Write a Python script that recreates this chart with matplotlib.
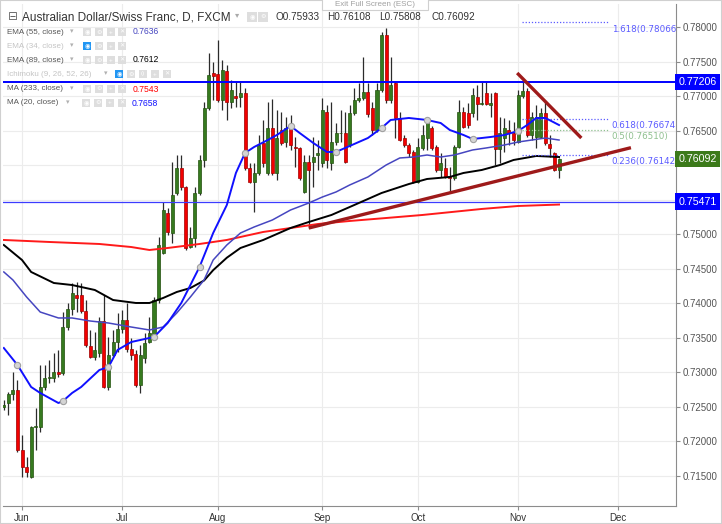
import numpy as np
import pandas as pd
import matplotlib
matplotlib.use("Agg")
import matplotlib.pyplot as plt
from matplotlib.patches import Rectangle
from matplotlib.transforms import Affine2D, blended_transform_factory

plt.rcParams['font.family'] = ['Liberation Sans', 'DejaVu Sans']

# candles diarios AUD/CHF (FXCM), de 26/05/2017 ate 14/11/2017
opens = [0.72499, 0.72557, 0.72687, 0.72745, 0.71877, 0.71631, 0.71486, 0.72210, 0.72210, 0.72789,
         0.72919, 0.72919, 0.73006, 0.72991, 0.73657, 0.73918, 0.74121, 0.74121, 0.73889, 0.73382,
         0.73223, 0.73281, 0.73744, 0.72789, 0.73252, 0.73440, 0.73628, 0.73759, 0.73339, 0.73266,
         0.72818, 0.73209, 0.73440, 0.73513, 0.74048, 0.74729, 0.75308, 0.75018, 0.75597, 0.75959,
         0.75684, 0.74815, 0.74946, 0.75597, 0.76075, 0.76828, 0.77334, 0.77320, 0.76943, 0.77363,
         0.76914, 0.77001, 0.76987, 0.77045, 0.75959, 0.75756, 0.75887, 0.76321, 0.75887, 0.76538,
         0.75887, 0.76509, 0.76335, 0.76552, 0.76263, 0.76249, 0.75612, 0.76046, 0.76046, 0.76147,
         0.76031, 0.76770, 0.76031, 0.76335, 0.76466, 0.76466, 0.76292, 0.76755, 0.76943, 0.76972,
         0.77059, 0.76828, 0.76509, 0.77088, 0.77884, 0.76943, 0.77190, 0.76683, 0.76393, 0.76292,
         0.76191, 0.75756, 0.76249, 0.76393, 0.76538, 0.76263, 0.75930, 0.75959, 0.75843, 0.75814,
         0.76263, 0.76770, 0.76755, 0.76755, 0.76987, 0.76886, 0.77045, 0.76871, 0.77045, 0.76234,
         0.76393, 0.76509, 0.76466, 0.76335, 0.77001, 0.77074, 0.76437, 0.76408, 0.76408, 0.76755,
         0.76306, 0.76176, 0.75933]
highs = [0.72601, 0.72716, 0.73006, 0.72890, 0.72094, 0.71775, 0.72230, 0.72485, 0.73107, 0.73107,
         0.73180, 0.73281, 0.73325, 0.73874, 0.74005, 0.74294, 0.74310, 0.74294, 0.74048, 0.73614,
         0.73585, 0.73802, 0.74121, 0.73513, 0.73614, 0.73860, 0.73903, 0.74005, 0.73498, 0.73325,
         0.73397, 0.73570, 0.73802, 0.74092, 0.74960, 0.75467, 0.75380, 0.76046, 0.76147, 0.76147,
         0.75700, 0.75105, 0.75684, 0.76147, 0.76914, 0.77624, 0.77494, 0.77812, 0.77522, 0.77450,
         0.77233, 0.77204, 0.77204, 0.77117, 0.76031, 0.76031, 0.76437, 0.76654, 0.76914, 0.76958,
         0.76799, 0.76770, 0.76697, 0.76726, 0.76408, 0.76263, 0.76147, 0.76147, 0.76408, 0.76364,
         0.76972, 0.76871, 0.76914, 0.76610, 0.76799, 0.76770, 0.76871, 0.77117, 0.77190, 0.77566,
         0.77190, 0.76914, 0.77190, 0.77928, 0.77986, 0.77566, 0.77204, 0.76770, 0.76437, 0.76321,
         0.76220, 0.76393, 0.76581, 0.76654, 0.76567, 0.76292, 0.76176, 0.76104, 0.75974, 0.76292,
         0.76943, 0.76842, 0.76900, 0.77117, 0.77161, 0.77204, 0.77204, 0.77045, 0.77059, 0.76697,
         0.76683, 0.76654, 0.76625, 0.77088, 0.77204, 0.77117, 0.76770, 0.76871, 0.76828, 0.76914,
         0.76437, 0.76191, 0.76108]
lows = [0.72456, 0.72384, 0.72601, 0.71850, 0.71486, 0.71486, 0.71470, 0.71877, 0.72137, 0.72745,
        0.72847, 0.72861, 0.72934, 0.72963, 0.73614, 0.73831, 0.73874, 0.73860, 0.73368, 0.73210,
        0.73180, 0.73223, 0.72770, 0.72745, 0.73223, 0.73296, 0.73570, 0.73296, 0.73180, 0.72789,
        0.72702, 0.73136, 0.73425, 0.73500, 0.74005, 0.74710, 0.74989, 0.74873, 0.75568, 0.75641,
        0.74772, 0.74801, 0.74815, 0.75568, 0.75974, 0.76799, 0.76943, 0.76914, 0.76799, 0.76654,
        0.76828, 0.76842, 0.76842, 0.75930, 0.75742, 0.75322, 0.75858, 0.75974, 0.75858, 0.75858,
        0.75785, 0.76292, 0.76263, 0.76220, 0.75974, 0.75785, 0.75597, 0.75090, 0.75684, 0.75930,
        0.75974, 0.75959, 0.75930, 0.76292, 0.76335, 0.76031, 0.76263, 0.76726, 0.76914, 0.76943,
        0.76697, 0.76437, 0.76480, 0.77059, 0.76900, 0.76900, 0.76393, 0.76350, 0.76263, 0.76118,
        0.75742, 0.75742, 0.76220, 0.76220, 0.76220, 0.75901, 0.75829, 0.75814, 0.75612, 0.75785,
        0.76249, 0.76538, 0.76538, 0.76697, 0.76654, 0.76871, 0.76871, 0.76697, 0.76002, 0.76031,
        0.76191, 0.76292, 0.76292, 0.76321, 0.76972, 0.76408, 0.76364, 0.76249, 0.76393, 0.76292,
        0.76118, 0.75915, 0.75808]
closes = [0.72528, 0.72687, 0.72745, 0.71877, 0.71631, 0.71558, 0.72210, 0.72224, 0.72789, 0.72919,
          0.72934, 0.73006, 0.72977, 0.73657, 0.73918, 0.74150, 0.74077, 0.73889, 0.73397, 0.73223,
          0.73325, 0.73744, 0.72789, 0.73252, 0.73440, 0.73628, 0.73759, 0.73339, 0.73252, 0.72818,
          0.73252, 0.73425, 0.73570, 0.74048, 0.74844, 0.75351, 0.75033, 0.75568, 0.75959, 0.75684,
          0.74801, 0.74946, 0.75597, 0.76075, 0.76828, 0.77305, 0.77291, 0.76943, 0.77378, 0.76914,
          0.77088, 0.76972, 0.77045, 0.75959, 0.75756, 0.75887, 0.76292, 0.76031, 0.76538, 0.75887,
          0.76393, 0.76321, 0.76538, 0.76292, 0.76249, 0.75814, 0.76046, 0.75930, 0.76118, 0.76176,
          0.76799, 0.76075, 0.76335, 0.76466, 0.76470, 0.76046, 0.76755, 0.76943, 0.76972, 0.77059,
          0.76741, 0.76509, 0.77088, 0.77884, 0.76943, 0.77161, 0.76683, 0.76364, 0.76292, 0.76176,
          0.75756, 0.76263, 0.76437, 0.76610, 0.76249, 0.75930, 0.76031, 0.75829, 0.75814, 0.76263,
          0.76770, 0.76552, 0.76581, 0.77016, 0.76886, 0.76900, 0.76886, 0.76900, 0.76234, 0.76466,
          0.76538, 0.76466, 0.76364, 0.77016, 0.77074, 0.76437, 0.76697, 0.76697, 0.76755, 0.76321,
          0.76249, 0.75930, 0.76092]

# medias: (indice do candle, valor)
ma20_idx = [0, 3, 6, 8, 12, 13, 15, 17, 21, 23, 25, 28, 33, 36, 39, 43, 46, 49, 51, 53,
            55, 58, 60, 63, 65, 68, 71, 73, 75, 80, 83, 85, 89, 93, 96, 98, 101, 103, 105, 107,
            110, 113, 115, 117, 119, 122]
ma20_val = [0.73353, 0.73107, 0.72789, 0.72702, 0.72557, 0.72586, 0.72702, 0.72789, 0.73035, 0.73078,
            0.73325, 0.73440, 0.73513, 0.73715, 0.74005, 0.74526, 0.75018, 0.75423, 0.75887, 0.76176,
            0.76263, 0.76364, 0.76437, 0.76567, 0.76466, 0.76321, 0.76191, 0.76191, 0.76249, 0.76393,
            0.76538, 0.76654, 0.76683, 0.76654, 0.76610, 0.76509, 0.76437, 0.76379, 0.76393, 0.76408,
            0.76437, 0.76495, 0.76581, 0.76683, 0.76683, 0.76581]
ma20_dots = [3, 13, 23, 33, 43, 53, 63, 73, 83, 93, 103, 113]

ema55_idx = [0, 2, 5, 8, 12, 15, 19, 23, 28, 32, 35, 38, 41, 44, 46, 49, 52, 55, 59, 63,
             67, 70, 73, 76, 80, 84, 87, 90, 93, 96, 99, 103, 106, 110, 113, 116, 119, 122]
ema55_val = [0.74454, 0.74338, 0.74092, 0.73874, 0.73788, 0.73788, 0.73744, 0.73715, 0.73657, 0.73614,
             0.73657, 0.73860, 0.74092, 0.74338, 0.74627, 0.74844, 0.75018, 0.75105, 0.75206, 0.75351,
             0.75452, 0.75539, 0.75612, 0.75713, 0.75829, 0.76002, 0.76104, 0.76118, 0.76147, 0.76118,
             0.76147, 0.76220, 0.76249, 0.76292, 0.76335, 0.76364, 0.76393, 0.76364]

ema89_idx = [0, 4, 6, 11, 15, 20, 24, 29, 32, 35, 38, 41, 44, 46, 49, 52, 57, 63, 67, 72,
             77, 83, 89, 93, 98, 101, 105, 109, 112, 117, 122]
ema89_val = [0.74844, 0.74627, 0.74454, 0.74294, 0.74265, 0.74193, 0.74048, 0.74005, 0.74005, 0.74077,
             0.74164, 0.74222, 0.74330, 0.74480, 0.74660, 0.74801, 0.74917, 0.75090, 0.75177, 0.75279,
             0.75423, 0.75597, 0.75727, 0.75800, 0.75829, 0.75887, 0.75930, 0.76002, 0.76075, 0.76133,
             0.76118]

ma233_idx = [0, 10, 21, 28, 32, 36, 43, 49, 57, 63, 69, 76, 84, 92, 105, 113, 122]
ma233_val = [0.74917, 0.74888, 0.74859, 0.74815, 0.74772, 0.74801, 0.74859, 0.74917, 0.75033, 0.75090,
             0.75148, 0.75192, 0.75235, 0.75279, 0.75366, 0.75409, 0.75430]

# linhas desenhadas a mao
support_idx = [67, 137.8]
support_val = [0.75090, 0.76253]
resist_idx = [112.8, 126.9]
resist_val = [0.77334, 0.76393]
hlines = [0.77206, 0.75471]
fib_levels = ["1.618", "0.618", "0.5", "0.236"]
fib_prices = [0.78066, 0.76674, 0.76510, 0.76142]
fib_colors = ['#5b5bff', '#5b5bff', '#8fc08f', '#5b5bff']
fib_span = [113.9, 132.8]

W, H = 722, 524
fig = plt.figure(figsize=(W / 100, H / 100), dpi=100)
ax = fig.add_axes([3 / W, 18 / H, 673 / W, 502 / H])
ax.set_xlim(-0.18, 147.7)
ax.set_ylim(0.71066, 0.78333)

# eixo de datas (dias uteis)
days = pd.bdate_range('2017-05-26', '2017-12-29')
month_pos = [i for i in range(1, len(days)) if days[i].month != days[i - 1].month]
ax.set_xticks(month_pos)
ax.set_xticklabels([days[i].strftime('%b') for i in month_pos])
yt = np.arange(0.715, 0.78001, 0.005)
ax.set_yticks(yt)
# 0.75500 e 0.76000 ficam escondidos atras das etiquetas de preco
ax.set_yticklabels(['' if abs(v - 0.755) < 1e-6 or abs(v - 0.76) < 1e-6 else f"{v:.5f}" for v in yt])
ax.yaxis.tick_right()
ax.grid(True, color='#ececec', lw=0.8, zorder=0)
ax.set_axisbelow(True)
for s in ['top', 'left']:
    ax.spines[s].set_visible(False)
for s in ['right', 'bottom']:
    ax.spines[s].set_color('#8c8c8c')
ax.tick_params(axis='y', length=3, color='#8c8c8c', labelsize=7, labelcolor='#555555', pad=2)
ax.tick_params(axis='x', length=3, color='#8c8c8c', labelsize=7, labelcolor='#333333', pad=2)

# candles
o = np.array(opens)
c = np.array(closes)
idx = np.arange(len(o))
up = c >= o
bot = np.minimum(o, c)
hgt = np.maximum(np.abs(c - o), 0.00004)
ax.vlines(idx, lows, highs, color='#2b2b2b', lw=0.9, zorder=3)
ax.bar(idx[up], hgt[up], bottom=bot[up], width=0.66, color='#367a1f', edgecolor='#24520f', linewidth=0.5, zorder=4)
ax.bar(idx[~up], hgt[~up], bottom=bot[~up], width=0.66, color='#f20000', edgecolor='#a00000', linewidth=0.5, zorder=4)

# linhas horizontais
ax.axhline(hlines[0], color='#0000ff', lw=1.4, zorder=5)
ax.axhline(hlines[1], color='#3c3cff', lw=0.9, zorder=5)

# medias
ax.plot(ma233_idx, ma233_val, color='#ff1a1a', lw=1.4, zorder=5)
ax.plot(ema89_idx, ema89_val, color='black', lw=1.4, zorder=5)
ax.plot(ema55_idx, ema55_val, color='#4646c0', lw=1.1, zorder=5)
ax.plot(ma20_idx, ma20_val, color='#1010ff', lw=1.4, zorder=6)
dot_vals = [ma20_val[ma20_idx.index(i)] for i in ma20_dots]
ax.plot(ma20_dots, dot_vals, 'o', ms=4.5, mfc='#d4d4d4', mec='#a0a0a0', mew=0.8, zorder=7)

# fibonacci
for lvl, p, col in zip(fib_levels, fib_prices, fib_colors):
    ax.plot(fib_span, [p, p], ls=(0, (1, 1.5)), color=col, lw=0.9, zorder=5)
    t = ax.annotate(f"{lvl}({p:.5f})", (fib_span[1] + 0.8, p), xytext=(0, -1.5), textcoords='offset points',
                    va='top', ha='left', color=col, fontsize=6.3, family='DejaVu Sans', zorder=6)
    t.set_clip_on(True)
    t.set_clip_box(ax.bbox)

# linhas de tendencia
ax.plot(support_idx, support_val, color='#9e1a1a', lw=2.4, solid_capstyle='butt', zorder=8)
ax.plot(resist_idx, resist_val, color='#9e1a1a', lw=2.4, solid_capstyle='butt', zorder=8)

# etiquetas de preco no eixo
bt = blended_transform_factory(ax.transAxes, ax.transData)
for p, col in [(0.77206, '#0000ff'), (0.76092, '#3c7a1a'), (0.75471, '#0000ff')]:
    ax.text(1.0 + 2.5 / 673, p, f"{p:.5f}", transform=bt, va='center', ha='left', color='white',
            fontsize=7.7, clip_on=False, zorder=10,
            bbox=dict(boxstyle='square,pad=0.3', fc=col, ec='none'))

# cabecalho e legenda (coordenadas em pixels)
px = Affine2D().scale(1 / W, -1 / H).translate(0, 1) + fig.transFigure


def icon(x, y, fc, glyph, size=9):
    fig.add_artist(Rectangle((x, y - size / 2), size, size, transform=px, fc=fc, ec='none', zorder=20))
    fig.text(x + size / 2, y, glyph, transform=px, ha='center', va='center', fontsize=4.5,
             color='white', zorder=21)


fig.add_artist(Rectangle((322, -3), 106, 13, transform=px, fc='white', ec='#d0d0d0', lw=0.8, zorder=20))
fig.text(375, 4.5, "Exit Full Screen (ESC)", transform=px, ha='center', va='center', fontsize=5.8,
         color='#a0a0a0', zorder=21)

fig.text(8, 17, "\u229f", transform=px, va='center', fontsize=8.5, color='#666666', zorder=21)
fig.text(22, 17, "Australian Dollar/Swiss Franc, D, FXCM", transform=px, va='center', fontsize=8.5,
         color='#333333', zorder=21)
fig.text(235, 16, "\u25be", transform=px, va='center', fontsize=6, color='#aaaaaa', zorder=21)
icon(247, 17, '#dedede', '\u25c9', 10)
icon(258, 17, '#dedede', '\u2699', 10)
for x, s in zip([275, 327, 379, 431], ["O0.75933", "H0.76108", "L0.75808", "C0.76092"]):
    fig.text(x, 17, s, transform=px, va='center', fontsize=7.2, color='#333333', zorder=21)

legend_rows = [
    (32, "EMA (55, close)", '#555555', 70, [83, 95, 107, 118], False, "0.7636", '#4646c0', 133),
    (46, "EMA (34, close)", '#c4c4c4', 70, [83, 95, 107, 118], True, "", None, 0),
    (60, "EMA (89, close)", '#555555', 70, [83, 95, 107, 118], False, "0.7612", 'black', 133),
    (74, "Ichimoku (9, 26, 52, 26)", '#c4c4c4', 104, [115, 127, 139, 151, 163], True, "", None, 0),
    (89, "MA (233, close)", '#555555', 70, [83, 95, 107, 118], False, "0.7543", '#ff0000', 133),
    (103, "MA (20, close)", '#555555', 66, [82, 94, 106, 118], False, "0.7658", '#1010ff', 132),
]
for y, name, tcol, ax_x, icons, hidden, val, vcol, vx in legend_rows:
    fig.text(7, y, name, transform=px, va='center', fontsize=5.8, color=tcol, zorder=21)
    fig.text(ax_x, y - 0.5, "\u25be", transform=px, va='center', fontsize=5, color='#b0b0b0', zorder=21)
    glyphs = ['\u25c9', '\u2699', '()', '+', '\u2715'] if len(icons) == 5 else ['\u25c9', '\u2699', '+', '\u2715']
    for k, (x, g) in enumerate(zip(icons, glyphs)):
        fc = '#2196f3' if (hidden and k == 0) else '#dedede'
        icon(x, y, fc, g, 8)
    if val:
        fig.text(vx, y, val, transform=px, va='center', fontsize=6.2, color=vcol, zorder=21)

fig.add_artist(Rectangle((0, 0), 1, 1, transform=fig.transFigure, fill=False, ec='#d0d0d0', lw=1.5))

fig.savefig("out.png", dpi=100)
